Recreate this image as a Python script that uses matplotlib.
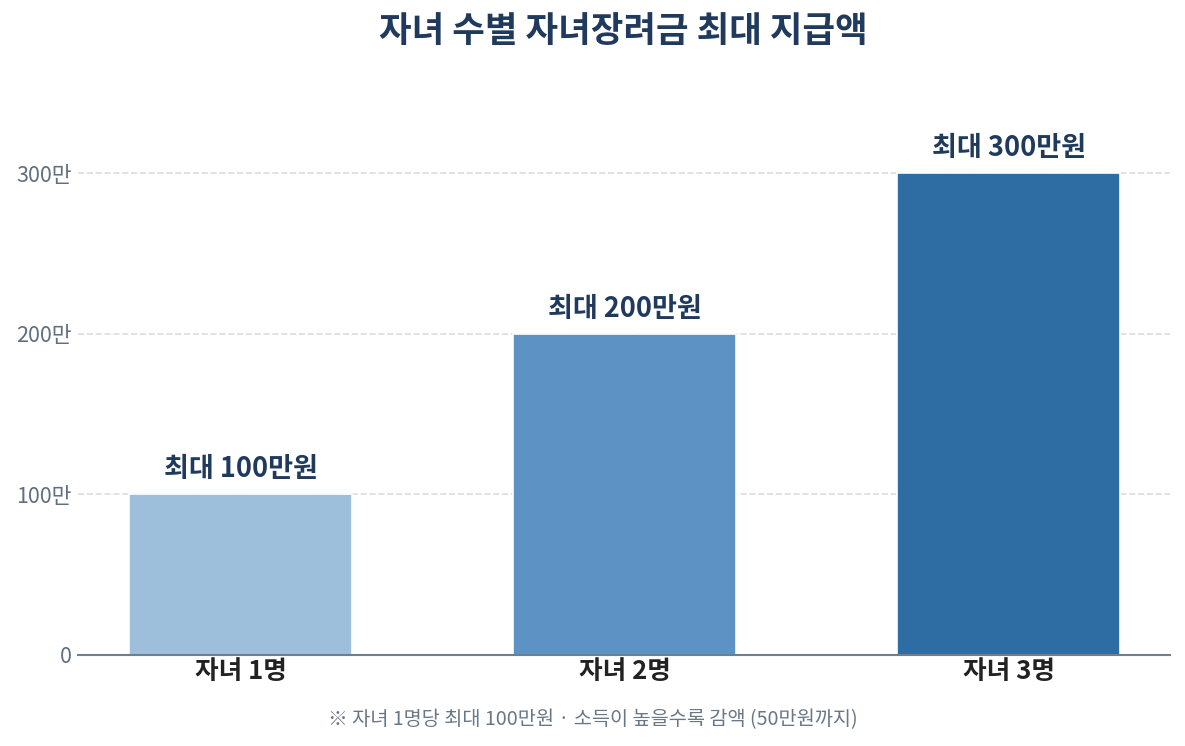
import matplotlib
matplotlib.use('Agg')
from matplotlib import pyplot as plt

plt.rcParams['font.family'] = ['Noto Sans CJK KR', 'DejaVu Sans']

categories = ['자녀 1명', '자녀 2명', '자녀 3명']
amounts = [100, 200, 300]
bar_labels = ['최대 100만원', '최대 200만원', '최대 300만원']
y_ticks = [0, 100, 200, 300]
y_tick_labels = ['0', '100만', '200만', '300만']
colors = ['#9dbfdb', '#5d93c4', '#2e6da4']

fig = plt.figure(dpi=100, figsize=(11.85, 7.46))
ax = fig.add_axes([0.0658, 0.122, 0.9215, 0.732])

x = list(range(len(categories)))
bars = ax.bar(x, amounts, width=0.58, color=colors, edgecolor='white', linewidth=1.2, zorder=3)

for b, lab in zip(bars, bar_labels):
    ax.text(b.get_x() + b.get_width() / 2, b.get_height() + 7, lab,
            ha='center', va='bottom', fontsize=19.5, fontweight='bold', color='#1f3a5c')

ax.set_xlim(-0.424, 2.42)
ax.set_ylim(0, 340)
ax.set_xticks(x)
ax.set_xticklabels(categories, fontsize=18.5, fontweight='bold', color='#222222')
ax.set_yticks(y_ticks)
ax.set_yticklabels(y_tick_labels, fontsize=15.5, color='#5f6f80')
ax.tick_params(axis='both', length=0)
ax.tick_params(axis='y', pad=4.5)
ax.tick_params(axis='x', pad=2)

ax.grid(axis='y', linestyle='--', color='#dddddd', linewidth=1.2, zorder=0)
for s in ['top', 'right', 'left']:
    ax.spines[s].set_visible(False)
ax.spines['bottom'].set_color('#6f7f90')
ax.spines['bottom'].set_linewidth(1.5)
ax.spines['bottom'].set_zorder(4)

fig.text(0.526, 0.958, '자녀 수별 자녀장려금 최대 지급액', ha='center', va='center',
         fontsize=25.5, fontweight='bold', color='#1f3a5c')
fig.text(0.5, 0.035, '※ 자녀 1명당 최대 100만원 · 소득이 높을수록 감액 (50만원까지)',
         ha='center', va='center', fontsize=14.2, color='#6a7785')

plt.savefig('out.png')
